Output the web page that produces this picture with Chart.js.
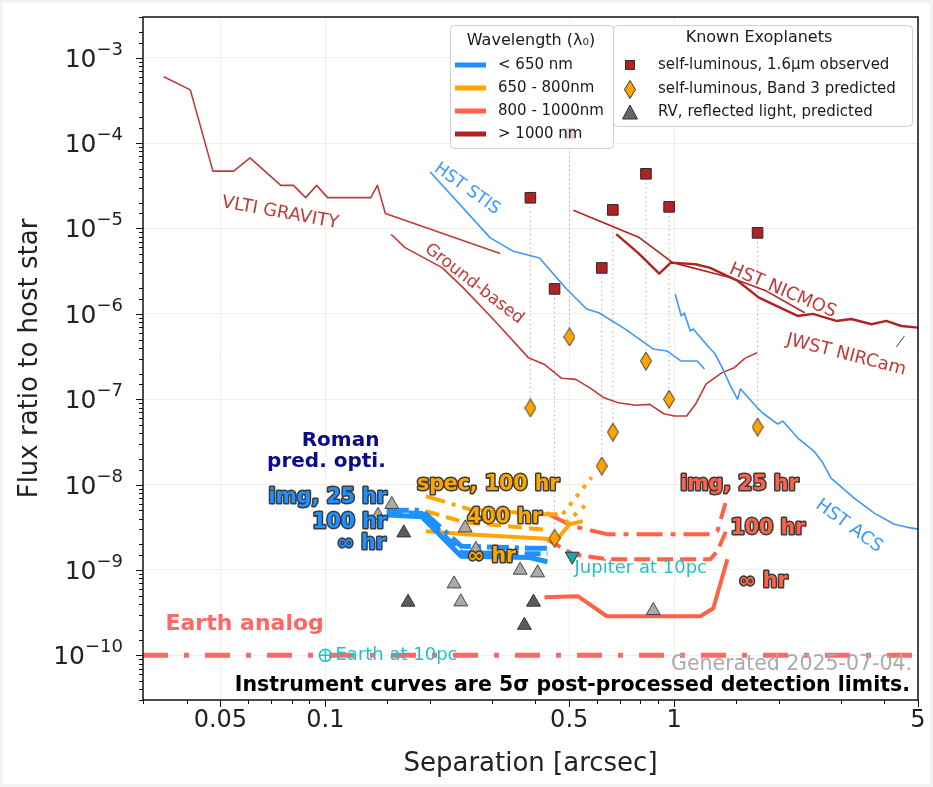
<!DOCTYPE html>
<html>
<head>
<meta charset="utf-8">
<script src="https://cdn.jsdelivr.net/npm/chart.js@4.4.1/dist/chart.umd.min.js"></script>
<style>
  html, body { margin: 0; padding: 0; background: #f2f2f2; }
  #wrap { position: relative; width: 933px; height: 787px; }
</style>
</head>
<body>
<div id="wrap"><canvas id="grafico" width="933" height="787"></canvas></div>
<script>
// Curvas de contraste (separação em arcsec, razão de fluxo)
const vltiSep = [0.0344, 0.041, 0.0476, 0.0546, 0.0608, 0.0745, 0.081, 0.0878, 0.0944, 0.1015, 0.135, 0.141, 0.1486, 0.317];
const vltiFlux = [6.0e-4, 4.2e-4, 4.7e-5, 4.7e-5, 6.7e-5, 3.2e-5, 3.2e-5, 2.3e-5, 3.2e-5, 2.3e-5, 2.3e-5, 3.2e-5, 1.5e-5, 5.1e-6];

const stisSep = [0.1995, 0.297, 0.344, 0.411, 0.4885, 0.561, 0.608, 0.7225, 0.870, 0.955, 1.047, 1.164, 1.221];
const stisFlux = [4.61e-5, 7.76e-6, 5.46e-6, 4.52e-6, 2.01e-6, 1.14e-6, 1.03e-6, 6.66e-7, 3.88e-7, 3.67e-7, 2.8e-7, 2.8e-7, 2.26e-7];

const acsSep = [1.0067, 1.048, 1.069, 1.112, 1.134, 1.270, 1.305, 1.375, 1.450, 1.519, 1.549, 1.734, 1.793, 1.981, 2.047, 2.262, 2.515, 2.670, 2.815, 3.281, 3.745, 4.276, 4.63, 5.0];
const acsFlux = [1.71e-6, 9.45e-7, 1.02e-6, 6.3e-7, 6.65e-7, 3.88e-7, 3.48e-7, 2.32e-7, 1.43e-7, 1.0e-7, 1.32e-7, 7.9e-8, 6.9e-8, 5.12e-8, 5.55e-8, 3.51e-8, 2.47e-8, 1.79e-8, 1.19e-8, 6.95e-9, 4.63e-9, 3.44e-9, 3.18e-9, 3.01e-9];

const groundSep = [0.1543, 0.1692, 0.216, 0.2482, 0.3062, 0.3818, 0.4238, 0.4758, 0.5223, 0.5734, 0.6294, 0.6905, 0.7757, 0.851, 0.934, 1.0014, 1.086, 1.151, 1.234, 1.371, 1.487, 1.594, 1.729];
const groundFlux = [8.57e-6, 5.97e-6, 3.48e-6, 2.03e-6, 8.26e-7, 3.07e-7, 2.57e-7, 1.76e-7, 1.71e-7, 1.36e-7, 1.04e-7, 9.1e-8, 8.49e-8, 8.71e-8, 6.76e-8, 6.35e-8, 6.35e-8, 8.71e-8, 1.5e-7, 2.05e-7, 2.34e-7, 3.01e-7, 3.51e-7];

const nicmosSep = [0.514, 0.794, 0.990, 1.453, 1.833, 2.366];
const nicmosFlux = [1.64e-5, 7.82e-6, 3.98e-6, 2.65e-6, 1.86e-6, 1.03e-6];

const nircamSep = [0.682, 0.788, 0.906, 0.978, 1.151, 1.263, 1.522, 1.749, 2.259, 2.499, 2.917, 3.216, 3.68, 4.056, 4.48, 5.0];
const nircamFlux = [8.57e-6, 5.18e-6, 2.96e-6, 3.98e-6, 3.81e-6, 3.48e-6, 2.43e-6, 1.55e-6, 9.45e-7, 9.98e-7, 8.26e-7, 8.71e-7, 7.55e-7, 8.26e-7, 7.21e-7, 6.89e-7];

// Roman, predições (img < 650 nm)
const azulSep = [0.150, 0.189, 0.245, 0.385, 0.433];
const azul25h = [5.0e-9, 5.0e-9, 1.9e-9, 1.8e-9, 1.8e-9];
const azul100h = [4.7e-9, 4.6e-9, 1.6e-9, 1.55e-9, 1.55e-9];
const azulInf = [4.4e-9, 4.2e-9, 1.45e-9, 1.4e-9, 1.25e-9];

// Roman, espectroscopia (650 - 800 nm)
const laranja100hSep = [0.1941, 0.2583, 0.411, 0.479];
const laranja100h = [7.33e-9, 5.16e-9, 4.51e-9, 4.51e-9];
const laranja400hSep = [0.1941, 0.2498, 0.4395];
const laranja400h = [4.89e-9, 3.63e-9, 2.93e-9];
const laranjaInfSep = [0.1941, 0.2532, 0.4395, 0.460, 0.5014, 0.547];
const laranjaInf = [2.85e-9, 2.63e-9, 2.3e-9, 2.24e-9, 3.44e-9, 3.73e-9];
const laranjaExtSep1 = [0.479, 0.580];
const laranjaExt1 = [4.51e-9, 1.22e-8];
const laranjaExtSep2 = [0.4885, 0.5734];
const laranjaExt2 = [3.54e-9, 6.41e-9];

// Roman, img 800 - 1000 nm
const vermSep = [0.4305, 0.512, 0.641, 1.270, 1.330, 1.403];
const verm25h = [4.63e-9, 3.26e-9, 2.63e-9, 2.63e-9, 2.85e-9, 6.07e-9];
const verm100hSep = [0.4305, 0.512, 0.641, 1.270, 1.330, 1.421];
const verm100h = [2.3e-9, 1.53e-9, 1.34e-9, 1.34e-9, 1.66e-9, 3.09e-9];
const vermInfSep = [0.4248, 0.529, 0.641, 1.188, 1.295, 1.421];
const vermInf = [4.8e-10, 4.93e-10, 2.87e-10, 2.87e-10, 3.56e-10, 1.34e-9];

const terraSep = [0.03, 5];
const terraFlux = [1e-10, 1e-10];

// Exoplanetas conhecidos
const planetaSep = [0.387, 0.454, 0.501, 0.620, 0.667, 0.830, 0.967, 1.734];
const planetaObs = [2.29e-5, 1.96e-6, 1.29e-4, 3.45e-6, 1.65e-5, 4.37e-5, 1.79e-5, 8.88e-6];
const planetaBanda3 = [7.9e-8, 2.36e-9, 5.36e-7, 1.65e-8, 4.12e-8, 2.8e-7, 1.0e-7, 4.72e-8];

const rvClaroSep = [0.155, 0.1415, 0.2516, 0.270, 0.2338, 0.2445, 0.3617, 0.406, 0.871];
const rvClaroFlux = [5.86e-9, 4.36e-9, 3.11e-9, 1.74e-9, 6.87e-10, 4.23e-10, 9.95e-10, 9.25e-10, 3.35e-10];
const rvEscuroSep = [0.1678, 0.1726, 0.395, 0.372];
const rvEscuroFlux = [2.72e-9, 4.2e-10, 4.2e-10, 2.25e-10];

const jupiterSep = [0.51];
const jupiterFlux = [1.45e-9];
const terra10pcSep = [0.1];
const terra10pcFlux = [1e-10];

// Eixos
const rotulosX = [0.05, 0.1, 0.5, 1, 5];

// Cores
const CORES = {
    azul: '#1e90ff',
    azulHst: '#3a98ff',
    laranja: '#ffa500',
    tomate: '#ff6347',
    tijolo: '#b22222',
    tijoloClaro: '#c03a3a',
    terra: '#ff6666',
    ciano: '#22c2c2',
    grade: 'rgba(215, 195, 165, 0.28)',
};

Chart.defaults.font.family = "'DejaVu Sans', sans-serif";
Chart.defaults.color = '#222';

function pares(xs, ys) {
    return xs.map((x, i) => ({ x, y: ys[i] }));
}

function curva(label, xs, ys, cor, largura, traco, ordem) {
    return {
        label,
        data: pares(xs, ys),
        showLine: true,
        borderColor: cor,
        backgroundColor: cor,
        borderWidth: largura,
        borderDash: traco || [],
        borderCapStyle: 'butt',
        borderJoinStyle: 'round',
        pointRadius: 0,
        pointHoverRadius: 0,
        tension: 0,
        order: ordem === undefined ? 3 : ordem,
    };
}

function marcadores(label, xs, ys, estilo, raio, fundo, borda, extra) {
    return Object.assign({
        label,
        data: pares(xs, ys),
        showLine: false,
        pointStyle: estilo,
        pointRadius: raio,
        pointHoverRadius: raio,
        pointBackgroundColor: fundo,
        backgroundColor: fundo,
        pointBorderColor: borda,
        borderColor: borda,
        pointBorderWidth: 1,
        order: 0,
    }, extra || {});
}

function criarLosango(w, h, fill, stroke) {
    const c = document.createElement('canvas');
    c.width = w; c.height = h;
    const g = c.getContext('2d');
    g.beginPath();
    g.moveTo(w / 2, 0.5); g.lineTo(w - 0.5, h / 2); g.lineTo(w / 2, h - 0.5); g.lineTo(0.5, h / 2);
    g.closePath();
    g.fillStyle = fill; g.fill();
    g.lineWidth = 1; g.strokeStyle = stroke; g.stroke();
    return c;
}
const losango = criarLosango(12, 19, CORES.laranja, '#333');

function ehDecada(v) {
    const l = Math.log10(v);
    return Math.abs(l - Math.round(l)) < 1e-6;
}
function ehRotuloX(v) {
    return rotulosX.some(r => Math.abs(v / r - 1) < 1e-6);
}

// Rótulos das curvas (posição em coordenadas de dados)
const rotulosCurvas = [
    { t: 'VLTI GRAVITY', x: 0.0742, y: 1.52e-5, ang: 10.3, cor: CORES.tijoloClaro, tam: 18 },
    { t: 'HST STIS', x: 0.2548, y: 2.91e-5, ang: 35.5, cor: CORES.azulHst, tam: 17 },
    { t: 'Ground-based', x: 0.267, y: 2.24e-6, ang: 37.8, cor: CORES.tijoloClaro, tam: 17 },
    { t: 'HST NICMOS', x: 2.047, y: 1.86e-6, ang: 23, cor: CORES.tijoloClaro, tam: 18 },
    { t: 'JWST NIRCam', x: 3.11, y: 3.3e-7, ang: 14.4, cor: CORES.tijoloClaro, tam: 18 },
    { t: 'HST ACS', x: 3.17, y: 3.26e-9, ang: 36, cor: CORES.azulHst, tam: 18 },
];

const rotulosRoman = [
    { t: 'img, 25 hr', x: 0.150, y: 6.95e-9, al: 'right', cor: CORES.azul },
    { t: '100 hr', x: 0.150, y: 3.63e-9, al: 'right', cor: CORES.azul },
    { t: '\u221E hr', x: 0.149, y: 2.06e-9, al: 'right', cor: CORES.azul },
    { t: 'spec, 100 hr', x: 0.183, y: 9.86e-9, al: 'left', cor: CORES.laranja },
    { t: '400 hr', x: 0.255, y: 4.05e-9, al: 'left', cor: CORES.laranja },
    { t: '\u221E hr', x: 0.255, y: 1.45e-9, al: 'left', cor: CORES.laranja },
    { t: 'img, 25 hr', x: 1.04, y: 9.86e-9, al: 'left', cor: CORES.tomate },
    { t: '100 hr', x: 1.45, y: 3.01e-9, al: 'left', cor: CORES.tomate },
    { t: '\u221E hr', x: 1.53, y: 7.2e-10, al: 'left', cor: CORES.tomate },
];

function texto(ctx, t, x, y, fonte, cor, alinhar, ang) {
    ctx.save();
    ctx.translate(x, y);
    if (ang) ctx.rotate(ang * Math.PI / 180);
    ctx.font = fonte;
    ctx.fillStyle = cor;
    ctx.textAlign = alinhar || 'center';
    ctx.textBaseline = 'middle';
    ctx.fillText(t, 0, 0);
    ctx.restore();
}

function textoContorno(ctx, t, x, y, fonte, cor, alinhar) {
    ctx.save();
    ctx.font = fonte;
    ctx.textAlign = alinhar;
    ctx.textBaseline = 'middle';
    ctx.lineJoin = 'round';
    ctx.lineWidth = 3;
    ctx.strokeStyle = '#3a3a3a';
    ctx.strokeText(t, x, y);
    ctx.fillStyle = cor;
    ctx.fillText(t, x, y);
    ctx.restore();
}

// rótulo 10^n com expoente elevado, alinhado à direita em xDir
function potencia10(ctx, exp, xDir, y) {
    const base = '10';
    const sup = exp < 0 ? '\u2212' + Math.abs(exp) : String(exp);
    ctx.save();
    ctx.fillStyle = '#222';
    ctx.textBaseline = 'alphabetic';
    ctx.textAlign = 'left';
    ctx.font = '18px DejaVu Sans';
    const wSup = ctx.measureText(sup).width;
    ctx.font = '25px DejaVu Sans';
    const wBase = ctx.measureText(base).width;
    const x0 = xDir - wSup - wBase;
    ctx.fillText(base, x0, y + 9);
    ctx.font = '18px DejaVu Sans';
    ctx.fillText(sup, x0 + wBase, y - 3);
    ctx.restore();
}

function caixa(ctx, x, y, w, h) {
    ctx.save();
    ctx.beginPath();
    ctx.roundRect(x + 0.5, y + 0.5, w, h, 4);
    ctx.fillStyle = 'rgba(255,255,255,0.82)';
    ctx.fill();
    ctx.strokeStyle = '#d0d0d0';
    ctx.lineWidth = 1;
    ctx.stroke();
    ctx.restore();
}

const FONTE_LEG = '15px DejaVu Sans';

function desenharLegendas(ctx) {
    // Comprimento de onda
    caixa(ctx, 450, 25, 163, 123);
    texto(ctx, 'Wavelength (\u03BB\u2080)', 531, 41, '16px DejaVu Sans', '#1a1a1a');
    const itens = [
        ['< 650 nm', CORES.azul], ['650 - 800nm', CORES.laranja],
        ['800 - 1000nm', CORES.tomate], ['> 1000 nm', CORES.tijolo],
    ];
    itens.forEach(([t, cor], i) => {
        const y = 65 + i * 23;
        ctx.save();
        ctx.strokeStyle = cor; ctx.lineWidth = 5;
        ctx.beginPath(); ctx.moveTo(455, y); ctx.lineTo(486, y); ctx.stroke();
        ctx.restore();
        texto(ctx, t, 498, y, FONTE_LEG, '#1a1a1a', 'left');
    });

    // Exoplanetas
    caixa(ctx, 613, 25, 299, 101);
    texto(ctx, 'Known Exoplanets', 759, 38, '16px DejaVu Sans', '#1a1a1a');
    ctx.save();
    ctx.fillStyle = CORES.tijolo; ctx.strokeStyle = '#333'; ctx.lineWidth = 1;
    ctx.fillRect(625, 60, 10, 10); ctx.strokeRect(625.5, 60.5, 9, 9);
    ctx.drawImage(losango, 624, 80);
    ctx.beginPath(); ctx.moveTo(630, 105); ctx.lineTo(637.5, 119); ctx.lineTo(622.5, 119); ctx.closePath();
    ctx.fillStyle = '#666'; ctx.fill(); ctx.strokeStyle = '#333'; ctx.stroke();
    ctx.restore();
    texto(ctx, 'self-luminous, 1.6\u00B5m observed', 658, 65, FONTE_LEG, '#1a1a1a', 'left');
    texto(ctx, 'self-luminous, Band 3 predicted', 658, 89, FONTE_LEG, '#1a1a1a', 'left');
    texto(ctx, 'RV, reflected light, predicted', 658, 112, FONTE_LEG, '#1a1a1a', 'left');
}

const pluginDecoracao = {
    id: 'decoracao',
    beforeDraw(chart) {
        const ctx = chart.ctx;
        ctx.save();
        ctx.fillStyle = '#f2f2f2';
        ctx.fillRect(0, 0, chart.width, chart.height);
        ctx.fillStyle = '#ffffff';
        ctx.fillRect(3, 3, chart.width - 6, chart.height - 6);
        ctx.restore();
    },
    afterDraw(chart) {
        const ctx = chart.ctx;
        const a = chart.chartArea;
        const sx = chart.scales.x, sy = chart.scales.y;
        const px = v => sx.getPixelForValue(v);
        const py = v => sy.getPixelForValue(v);

        // moldura e marcas dos eixos
        ctx.save();
        ctx.strokeStyle = '#111';
        ctx.lineWidth = 1.5;
        ctx.strokeRect(a.left, a.top, a.right - a.left, a.bottom - a.top);
        ctx.lineWidth = 1;
        ctx.beginPath();
        sx.ticks.forEach(t => {
            const x = Math.round(px(t.value)) + 0.5;
            if (x < a.left - 1 || x > a.right + 1) return;
            const L = ehRotuloX(t.value) ? 7 : 4;
            ctx.moveTo(x, a.bottom); ctx.lineTo(x, a.bottom + L);
        });
        sy.ticks.forEach(t => {
            const y = Math.round(py(t.value)) + 0.5;
            if (y < a.top - 1 || y > a.bottom + 1) return;
            const L = ehDecada(t.value) ? 7 : 4;
            ctx.moveTo(a.left, y); ctx.lineTo(a.left - L, y);
        });
        ctx.stroke();
        ctx.restore();

        // rótulos do eixo y (10^n)
        sy.ticks.filter(t => ehDecada(t.value)).forEach(t => {
            potencia10(ctx, Math.round(Math.log10(t.value)), a.left - 20, py(t.value));
        });

        // rótulos das curvas de instrumentos
        rotulosCurvas.forEach(r => texto(ctx, r.t, px(r.x), py(r.y), r.tam + 'px DejaVu Sans', r.cor, 'center', r.ang));

        // ponteiro JWST NIRCam
        ctx.save();
        ctx.strokeStyle = '#444'; ctx.lineWidth = 1;
        ctx.beginPath(); ctx.moveTo(px(4.335), py(4.09e-7)); ctx.lineTo(px(4.571), py(5.51e-7)); ctx.stroke();
        ctx.restore();

        // Roman
        texto(ctx, 'Roman', px(0.1105), py(3.24e-8), 'bold 20px DejaVu Sans', '#0a0a8a');
        texto(ctx, 'pred. opti.', px(0.1007), py(1.84e-8), 'bold 20px DejaVu Sans', '#0a0a8a');
        rotulosRoman.forEach(r => textoContorno(ctx, r.t, px(r.x), py(r.y), 'bold 20.5px DejaVu Sans', r.cor, r.al));

        texto(ctx, 'Earth analog', px(0.0348), py(2.32e-10), 'bold 22px DejaVu Sans', CORES.terra, 'left');
        texto(ctx, 'Earth at 10pc', px(0.1069), py(1e-10), '18px DejaVu Sans', CORES.ciano, 'left');
        texto(ctx, 'Jupiter at 10pc', px(0.518), py(1.05e-9), '18px DejaVu Sans', CORES.ciano, 'left');

        texto(ctx, 'Generated 2025-07-04.', a.right - 6, a.bottom - 35, '20.5px DejaVu Sans', '#aaaaaa', 'right');
        texto(ctx, 'Instrument curves are 5\u03C3 post-processed detection limits.', a.right - 8, a.bottom - 14, 'bold 20.5px DejaVu Sans', '#000', 'right');

        desenharLegendas(ctx);
    },
};

// Conjuntos de dados
const datasets = [
    marcadores('Jupiter', jupiterSep, jupiterFlux, 'triangle', 8, '#17a5a5', '#333', { pointRotation: 180 }),
    marcadores('Earth circle', terra10pcSep, terra10pcFlux, 'circle', 6, 'rgba(0,0,0,0)', CORES.ciano, { pointBorderWidth: 1.5 }),
    marcadores('Earth cross', terra10pcSep, terra10pcFlux, 'cross', 6, CORES.ciano, CORES.ciano, { pointBorderWidth: 1.5 }),
    marcadores('observed', planetaSep, planetaObs, 'rect', 7.5, CORES.tijolo, '#2a2a2a'),
    marcadores('band3', planetaSep, planetaBanda3, losango, 9, CORES.laranja, '#333'),
    marcadores('RV claro', rvClaroSep, rvClaroFlux, 'triangle', 8, '#aaaaaa', '#444'),
    marcadores('RV escuro', rvEscuroSep, rvEscuroFlux, 'triangle', 8, '#5c5c5c', '#333'),

    curva('Earth analog', terraSep, terraFlux, CORES.terra, 5, [25, 16, 5, 16], 2),

    curva('img 25 hr', azulSep, azul25h, CORES.azul, 5, [22, 6, 4, 6], 2),
    curva('img 100 hr', azulSep, azul100h, CORES.azul, 5, [16, 6], 2),
    curva('img inf', azulSep, azulInf, CORES.azul, 5, [], 2),

    curva('spec 100 hr', laranja100hSep, laranja100h, CORES.laranja, 4, [20, 7, 4, 7], 2),
    curva('spec 400 hr', laranja400hSep, laranja400h, CORES.laranja, 4, [14, 7], 2),
    curva('spec inf', laranjaInfSep, laranjaInf, CORES.laranja, 4, [], 2),
    curva('spec ext 1', laranjaExtSep1, laranjaExt1, CORES.laranja, 4, [4, 7], 2),
    curva('spec ext 2', laranjaExtSep2, laranjaExt2, CORES.laranja, 4, [4, 7], 2),

    curva('band4 25 hr', vermSep, verm25h, CORES.tomate, 4, [26, 8, 5, 8], 2),
    curva('band4 100 hr', verm100hSep, verm100h, CORES.tomate, 4, [16, 7], 2),
    curva('band4 inf', vermInfSep, vermInf, CORES.tomate, 4, [], 2),

    curva('VLTI GRAVITY', vltiSep, vltiFlux, CORES.tijoloClaro, 1.6),
    curva('HST STIS', stisSep, stisFlux, CORES.azulHst, 1.6),
    curva('HST ACS', acsSep, acsFlux, CORES.azulHst, 1.6),
    curva('Ground-based', groundSep, groundFlux, CORES.tijoloClaro, 1.6),
    curva('HST NICMOS', nicmosSep, nicmosFlux, CORES.tijolo, 1.6),
    curva('JWST NIRCam', nircamSep, nircamFlux, CORES.tijolo, 2.4),
];

// linhas pontilhadas ligando observado -> banda 3
planetaSep.forEach((s, i) => {
    datasets.push(curva('ligacao ' + i, [s, s], [planetaObs[i], planetaBanda3[i]], '#b0b0b0', 1, [1.5, 3], 6));
});

new Chart(document.getElementById('grafico'), {
    type: 'scatter',
    data: { datasets },
    options: {
        responsive: false,
        devicePixelRatio: 1,
        animation: false,
        events: [],
        layout: { padding: { top: 17, right: 15, left: 0, bottom: 0 } },
        plugins: {
            legend: { display: false },
            tooltip: { enabled: false },
        },
        scales: {
            x: {
                type: 'logarithmic',
                position: 'bottom',
                min: 0.03,
                max: 5,
                afterFit: (s) => { s.height = 87; s.paddingLeft = 0; s.paddingRight = 0; },
                border: { display: false },
                grid: {
                    drawTicks: false,
                    color: (c) => (c.tick && ehRotuloX(c.tick.value) ? CORES.grade : 'rgba(0,0,0,0)'),
                },
                ticks: {
                    autoSkip: false,
                    maxRotation: 0,
                    padding: 6,
                    font: { size: 24 },
                    color: '#222',
                    callback: (v) => {
                        const r = rotulosX.find(r => Math.abs(v / r - 1) < 1e-6);
                        return r === undefined ? '' : String(r);
                    },
                },
                title: {
                    display: true,
                    text: 'Separation [arcsec]',
                    font: { size: 26 },
                    color: '#222',
                    padding: { top: 0, bottom: 7 },
                },
            },
            y: {
                type: 'logarithmic',
                min: 3e-11,
                max: 3e-3,
                afterFit: (s) => { s.width = 143; s.paddingTop = 0; s.paddingBottom = 0; },
                border: { display: false },
                grid: {
                    drawTicks: false,
                    color: (c) => (c.tick && ehDecada(c.tick.value) ? CORES.grade : 'rgba(0,0,0,0)'),
                },
                ticks: {
                    display: false,
                    autoSkip: false,
                },
                title: {
                    display: true,
                    text: 'Flux ratio to host star',
                    font: { size: 26 },
                    color: '#222',
                    padding: { top: 15, bottom: 0 },
                },
            },
        },
    },
    plugins: [pluginDecoracao],
});
</script>
</body>
</html>
